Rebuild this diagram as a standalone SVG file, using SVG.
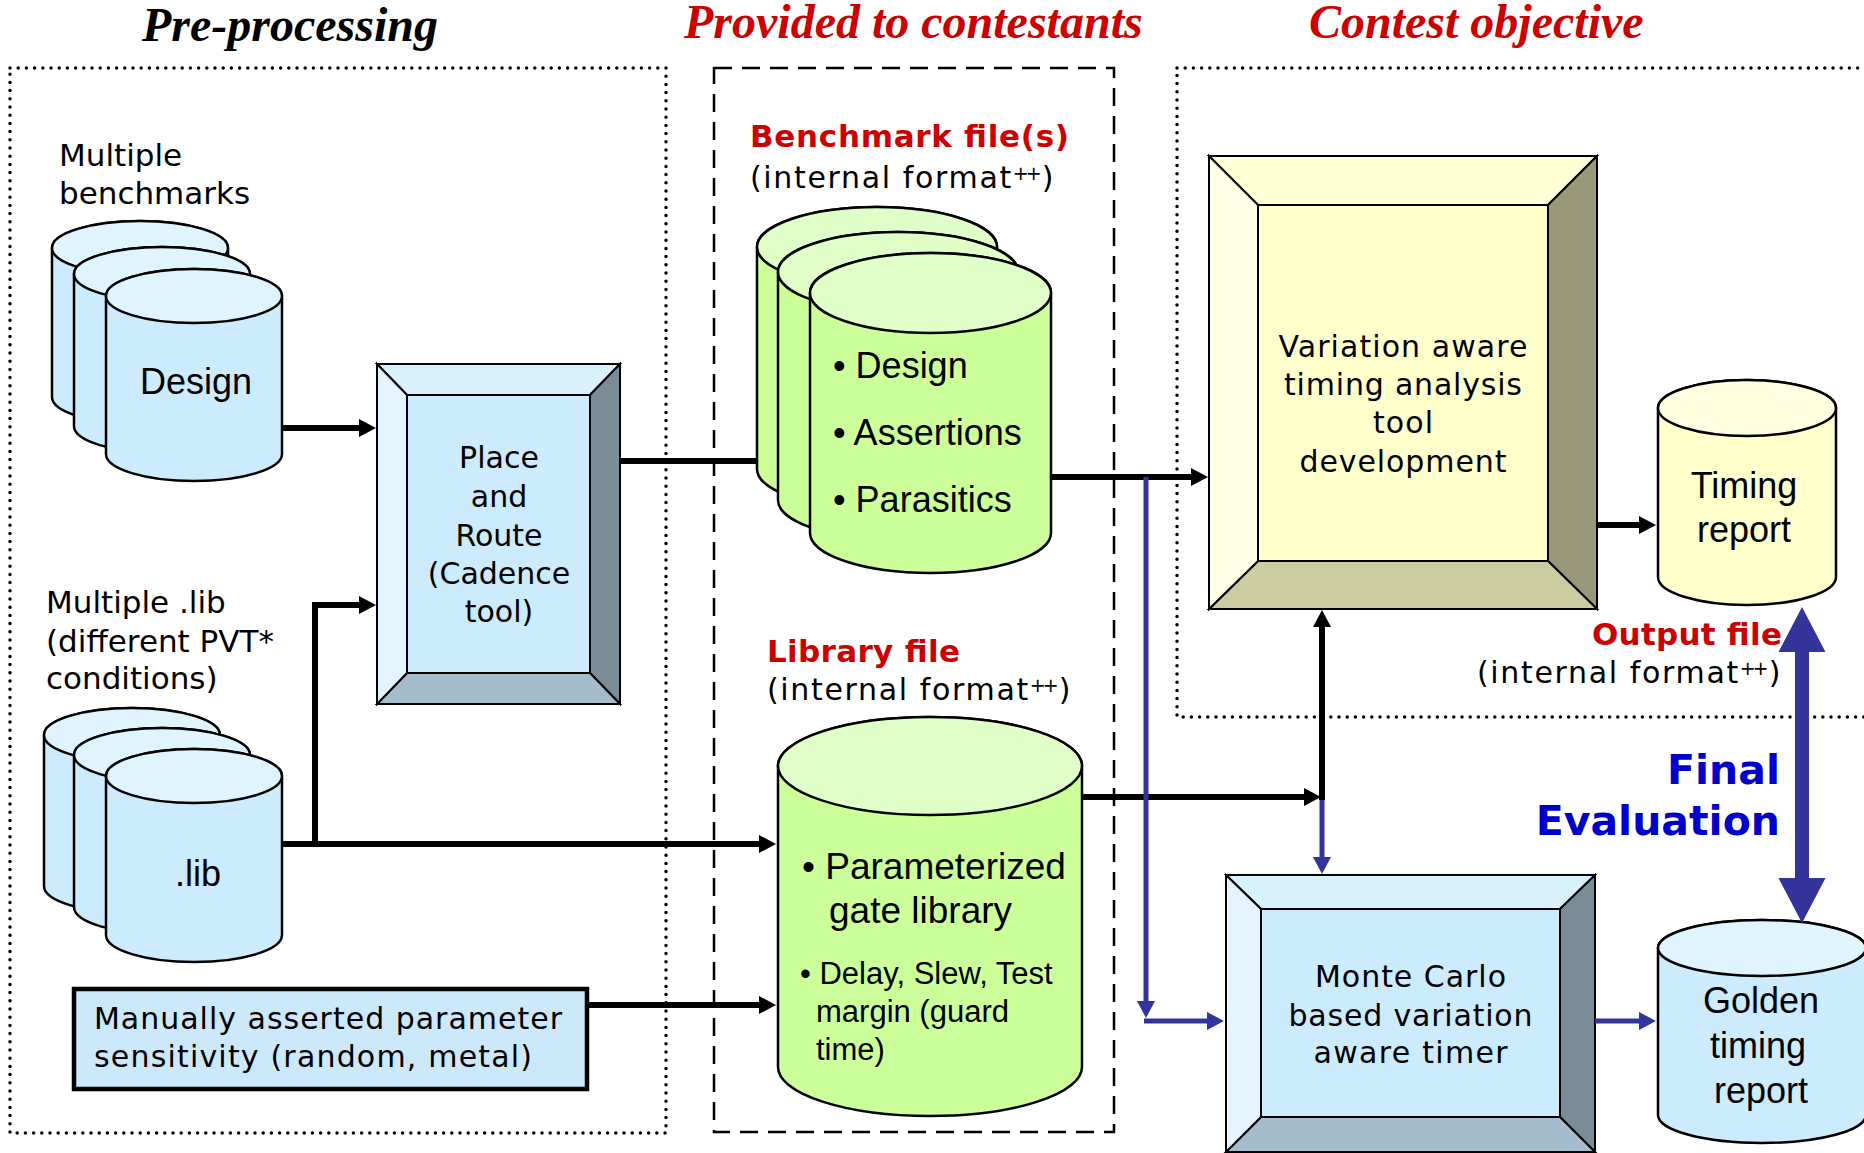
<svg xmlns="http://www.w3.org/2000/svg" width="1864" height="1153" viewBox="0 0 1864 1153">
<defs>
<style>
.hdr{font-family:"Liberation Serif","Times New Roman",serif;font-weight:bold;font-style:italic;font-size:48px}
.red{fill:#CC0000}
.lbl{font-family:"DejaVu Sans",Verdana,sans-serif;font-size:30px;fill:#000}
.lbl31{font-family:"DejaVu Sans",Verdana,sans-serif;font-size:31px;fill:#000}
.fmt{font-family:"DejaVu Sans",Verdana,sans-serif;font-size:30px;fill:#000;letter-spacing:1.65px}
.sp{font-size:19px;letter-spacing:-3px}
.cp{letter-spacing:0}
.bhd{font-family:"DejaVu Sans",Verdana,sans-serif;font-size:31px;font-weight:bold;fill:#CC0000}
.fin{font-family:"DejaVu Sans",Verdana,sans-serif;font-size:41px;font-weight:bold;fill:#0000CC}
.ar{font-family:"Liberation Sans",Arial,sans-serif;fill:#000}
.mid{text-anchor:middle}
.dot{fill:none;stroke:#000;stroke-width:3.5;stroke-dasharray:0 8.2;stroke-linecap:round}
.dash{fill:none;stroke:#000;stroke-width:2.5;stroke-dasharray:18 10}
.cl{stroke:#000;stroke-width:2.5}
.bcyl{fill:#CCEBFC}
.btop{fill:#E0F4FE}
.gcyl{fill:#CCFF99}
.gtop{fill:#E0FFC8}
.ycyl{fill:#FFFFCC}
.ytop{fill:#FFFFE2}
.bv{stroke:#000;stroke-width:2;stroke-linejoin:miter}
.blk{fill:none;stroke:#000;stroke-width:6}
.blu{fill:none;stroke:#333399;stroke-width:5}
</style>
<marker id="ak" markerUnits="userSpaceOnUse" markerWidth="18" markerHeight="18" viewBox="0 0 17 18" refX="1" refY="9" orient="auto"><path d="M0,0 L17,9 L0,18 Z" fill="#000"/></marker>
<marker id="ab" markerUnits="userSpaceOnUse" markerWidth="18" markerHeight="18" viewBox="0 0 17 18" refX="1" refY="9" orient="auto"><path d="M0,0 L17,9 L0,18 Z" fill="#333399"/></marker>
</defs>
<rect width="1864" height="1153" fill="#fff"/>

<g id="headers">
<text class="hdr" x="142" y="41">Pre-processing</text>
<text class="hdr red" x="684" y="38">Provided to contestants</text>
<text class="hdr red" x="1309" y="38">Contest objective</text>
</g>

<g id="regions">
<rect class="dot" x="10" y="68" width="656" height="1065"/>
<rect class="dash" x="714" y="68" width="400" height="1064"/>
<rect class="dot" x="1177" y="68" width="720" height="649"/>
</g>

<g id="design-stack">
<path class="bcyl cl" d="M52,248 V397 A88,27 0 0 0 228,397 V248 A88,27 0 0 0 52,248 Z"/>
<ellipse class="btop cl" cx="140" cy="248" rx="88" ry="27"/>
<path class="bcyl cl" d="M74,274 V426 A88,27 0 0 0 250,426 V274 A88,27 0 0 0 74,274 Z"/>
<ellipse class="btop cl" cx="162" cy="274" rx="88" ry="27"/>
<path class="bcyl cl" d="M106,296 V454 A88,27 0 0 0 282,454 V296 A88,27 0 0 0 106,296 Z"/>
<ellipse class="btop cl" cx="194" cy="296" rx="88" ry="27"/>
<text class="ar mid" x="196" y="394" font-size="36">Design</text>
</g>

<g id="benchmarks-label">
<text class="lbl31" x="59" y="166">Multiple</text>
<text class="lbl31" x="59" y="204">benchmarks</text>
</g>

<g id="lib-label">
<text class="lbl31" x="46" y="613">Multiple .lib</text>
<text class="lbl31" x="46" y="652">(different PVT*</text>
<text class="lbl31" x="46" y="689">conditions)</text>
</g>

<g id="lib-stack">
<path class="bcyl cl" d="M44,735 V886 A88,27 0 0 0 220,886 V735 A88,27 0 0 0 44,735 Z"/>
<ellipse class="btop cl" cx="132" cy="735" rx="88" ry="27"/>
<path class="bcyl cl" d="M74,755 V907 A88,27 0 0 0 250,907 V755 A88,27 0 0 0 74,755 Z"/>
<ellipse class="btop cl" cx="162" cy="755" rx="88" ry="27"/>
<path class="bcyl cl" d="M106,776 V935 A88,27 0 0 0 282,935 V776 A88,27 0 0 0 106,776 Z"/>
<ellipse class="btop cl" cx="194" cy="776" rx="88" ry="27"/>
<text class="ar mid" x="198" y="886" font-size="36">.lib</text>
</g>

<g id="place-route">
<rect x="377" y="364" width="243" height="340" fill="#CCEBFC" class="bv"/>
<polygon class="bv" fill="#D9F0FD" points="377,364 620,364 590,395 407,395"/>
<polygon class="bv" fill="#7A8C98" points="620,364 620,704 590,673 590,395"/>
<polygon class="bv" fill="#A4BCCC" points="377,704 620,704 590,673 407,673"/>
<polygon class="bv" fill="#E3F4FE" points="377,364 407,395 407,673 377,704"/>
<rect class="bv" x="407" y="395" width="183" height="278" fill="#CCEBFC"/>
<text class="lbl mid" x="499" y="468">Place</text>
<text class="lbl mid" x="499" y="507">and</text>
<text class="lbl mid" x="499" y="546">Route</text>
<text class="lbl mid" x="499" y="584">(Cadence</text>
<text class="lbl mid" x="499" y="622">tool)</text>
</g>

<g id="manual">
<rect x="74" y="989" width="513" height="100" fill="#CCE9FB" stroke="#000" stroke-width="4.5"/>
<text class="lbl" x="94" y="1029" textLength="468" lengthAdjust="spacing">Manually asserted parameter</text>
<text class="lbl" x="94" y="1067" textLength="438" lengthAdjust="spacing">sensitivity (random, metal)</text>
</g>

<g id="benchmark-files">
<text class="bhd" x="750" y="147" textLength="319" lengthAdjust="spacing">Benchmark file(s)</text>
<text class="fmt" x="750" y="188">(internal format<tspan class="sp" dy="-8">++</tspan><tspan class="cp" dx="3" dy="8">)</tspan></text>
<path class="gcyl cl" d="M757,247 V469 A120,40 0 0 0 997,469 V247 A120,40 0 0 0 757,247 Z"/>
<ellipse class="gtop cl" cx="877" cy="247" rx="120" ry="40"/>
<path class="gcyl cl" d="M778,272 V500 A120,40 0 0 0 1018,500 V272 A120,40 0 0 0 778,272 Z"/>
<ellipse class="gtop cl" cx="898" cy="272" rx="120" ry="40"/>
<path class="gcyl cl" d="M810,293 V533 A120.5,40 0 0 0 1051,533 V293 A120.5,40 0 0 0 810,293 Z"/>
<ellipse class="gtop cl" cx="930.5" cy="293" rx="120.5" ry="40"/>
<text class="ar" x="833" y="378" font-size="36">• Design</text>
<text class="ar" x="833" y="445" font-size="36">• Assertions</text>
<text class="ar" x="833" y="512" font-size="36">• Parasitics</text>
</g>

<g id="library-file">
<text class="bhd" x="767" y="662" textLength="193" lengthAdjust="spacing">Library file</text>
<text class="fmt" x="767" y="700">(internal format<tspan class="sp" dy="-8">++</tspan><tspan class="cp" dx="3" dy="8">)</tspan></text>
<path class="gcyl cl" d="M778,766 V1067 A152,49 0 0 0 1082,1067 V766 A152,49 0 0 0 778,766 Z"/>
<ellipse class="gtop cl" cx="930" cy="766" rx="152" ry="49"/>
<text class="ar" x="802" y="879" font-size="37">• Parameterized</text>
<text class="ar" x="829" y="923" font-size="37">gate library</text>
<text class="ar" x="800" y="984" font-size="31">• Delay, Slew, Test</text>
<text class="ar" x="816" y="1022" font-size="31">margin (guard</text>
<text class="ar" x="816" y="1060" font-size="31">time)</text>
</g>

<g id="variation-tool">
<rect x="1209" y="156" width="388" height="453" fill="#FFFFCC" class="bv"/>
<polygon class="bv" fill="#FFFFD6" points="1209,156 1597,156 1548,205 1258,205"/>
<polygon class="bv" fill="#999979" points="1597,156 1597,609 1548,561 1548,205"/>
<polygon class="bv" fill="#CCCCA3" points="1209,609 1597,609 1548,561 1258,561"/>
<polygon class="bv" fill="#FFFFE6" points="1209,156 1258,205 1258,561 1209,609"/>
<rect class="bv" x="1258" y="205" width="290" height="356" fill="#FFFFCC"/>
<text class="lbl mid" x="1403" y="357" textLength="249" lengthAdjust="spacing">Variation aware</text>
<text class="lbl mid" x="1403" y="395" textLength="238" lengthAdjust="spacing">timing analysis</text>
<text class="lbl mid" x="1403" y="433" textLength="60" lengthAdjust="spacing">tool</text>
<text class="lbl mid" x="1403" y="472" textLength="207" lengthAdjust="spacing">development</text>
</g>

<g id="timing-report">
<path class="ycyl cl" d="M1658,408 V577 A89,28 0 0 0 1836,577 V408 A89,28 0 0 0 1658,408 Z"/>
<ellipse class="ytop cl" cx="1747" cy="408" rx="89" ry="28"/>
<text class="ar mid" x="1744" y="498" font-size="36">Timing</text>
<text class="ar mid" x="1744" y="542" font-size="36">report</text>
</g>

<g id="output-label">
<text class="bhd" x="1592" y="645" textLength="190" lengthAdjust="spacing">Output file</text>
<text class="fmt" x="1477" y="683">(internal format<tspan class="sp" dy="-8">++</tspan><tspan class="cp" dx="3" dy="8">)</tspan></text>
</g>

<g id="monte-carlo">
<rect x="1226" y="875" width="369" height="277" fill="#CCEBFC" class="bv"/>
<polygon class="bv" fill="#D9F0FD" points="1226,875 1595,875 1560,909 1261,909"/>
<polygon class="bv" fill="#7A8C98" points="1595,875 1595,1152 1560,1117 1560,909"/>
<polygon class="bv" fill="#A4BCCC" points="1226,1152 1595,1152 1560,1117 1261,1117"/>
<polygon class="bv" fill="#E3F4FE" points="1226,875 1261,909 1261,1117 1226,1152"/>
<rect class="bv" x="1261" y="909" width="299" height="208" fill="#CCEBFC"/>
<text class="lbl mid" x="1410.5" y="987" textLength="191" lengthAdjust="spacing">Monte Carlo</text>
<text class="lbl mid" x="1410.5" y="1026" textLength="244" lengthAdjust="spacing">based variation</text>
<text class="lbl mid" x="1410.5" y="1063" textLength="194" lengthAdjust="spacing">aware timer</text>
</g>

<g id="golden-report">
<path class="bcyl cl" d="M1658,948 V1115 A104,28 0 0 0 1866,1115 V948 A104,28 0 0 0 1658,948 Z"/>
<ellipse class="btop cl" cx="1762" cy="948" rx="104" ry="28"/>
<text class="ar mid" x="1761" y="1013" font-size="36">Golden</text>
<text class="ar mid" x="1758" y="1058" font-size="36">timing</text>
<text class="ar mid" x="1761" y="1103" font-size="36">report</text>
</g>

<g id="final-evaluation">
<text class="fin" x="1780" y="784" text-anchor="end">Final</text>
<text class="fin" x="1780" y="835" text-anchor="end">Evaluation</text>
</g>

<g id="connectors">
<path class="blk" d="M282,428 H360" marker-end="url(#ak)"/>
<path class="blk" d="M620,461 H757"/>
<path class="blk" d="M1051,477 H1192" marker-end="url(#ak)"/>
<path class="blk" d="M282,844 H760" marker-end="url(#ak)"/>
<path class="blk" d="M315,844 V605 H360" marker-end="url(#ak)"/>
<path class="blk" d="M587,1005 H760" marker-end="url(#ak)"/>
<path class="blk" d="M1082,797 H1305" marker-end="url(#ak)"/>
<path class="blk" d="M1322,800 V626" marker-end="url(#ak)"/>
<path class="blk" d="M1597,525 H1640" marker-end="url(#ak)"/>
<path class="blu" d="M1146,477 V1002" marker-end="url(#ab)"/>
<path class="blu" d="M1144,1021 H1208" marker-end="url(#ab)"/>
<path class="blu" d="M1322,800 V858" marker-end="url(#ab)"/>
<path class="blu" d="M1595,1021 H1640" marker-end="url(#ab)"/>
<polygon fill="#333399" points="1802,607 1825.5,652 1809,652 1809,878 1825.5,878 1802,923 1778.5,878 1795,878 1795,652 1778.5,652"/>
</g>
</svg>
